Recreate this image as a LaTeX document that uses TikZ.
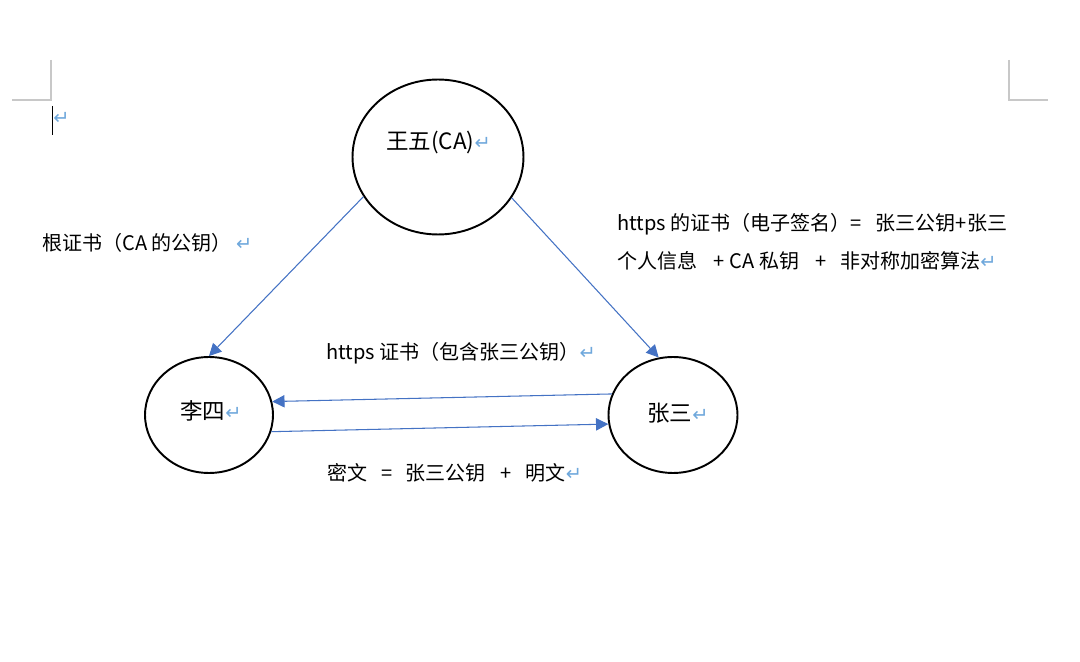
\documentclass[tikz,border=0pt]{standalone}
\usepackage{fontspec}
\setmainfont{Noto Sans CJK SC}
\newfontfamily\symf{DejaVu Sans}
\usetikzlibrary{arrows.meta,shapes.geometric}
\definecolor{arrblue}{HTML}{4472C4}
\definecolor{retblue}{HTML}{6FA8DC}
\definecolor{markgray}{HTML}{C8C8C8}
\newcommand{\rmk}{{\color{retblue}\symf\fontsize{11pt}{11pt}\selectfont ↵}}
\newcommand{\gp}[1]{\hspace{#1\dimexpr0.02cm\relax}}
\tikzset{
  circnode/.style={ellipse, draw=black, line width=1.1pt, inner sep=0pt},
  conn/.style={draw=arrblue, line width=0.6pt, -{Triangle[length=7pt,width=7pt]}},
  lbl/.style={anchor=west, inner sep=0pt, font=\fontsize{11.4pt}{13pt}\selectfont},
  biglbl/.style={anchor=west, inner sep=0pt, font=\fontsize{12.8pt}{14pt}\selectfont},
  pagemark/.style={draw=markgray, line width=0.8pt}
}
\begin{document}
\begin{tikzpicture}[x=0.02cm,y=-0.02cm]
\useasboundingbox[fill=white] (0,0) rectangle (1080,662);
% page corner marks
\coordinate (tl1) at (51,60); \coordinate (tl2) at (51,100); \coordinate (tl3) at (12,100);
\coordinate (tr1) at (1009,60); \coordinate (tr2) at (1009,100); \coordinate (tr3) at (1048,100);
\draw[pagemark] (tl1) -- (tl2) -- (tl3);
\draw[pagemark] (tr1) -- (tr2) -- (tr3);
\coordinate (cur1) at (52.5,106); \coordinate (cur2) at (52.5,135);
\draw[black, line width=0.9pt] (cur1) -- (cur2);
\node[lbl] (m0) at (53,118) {\rmk};
% nodes
\node[circnode, minimum width=3.42cm, minimum height=3.1cm] (ww) at (438,157) {};
\node[biglbl] (wwt) at (386,143) {王五(CA)\rmk};
\node[circnode, minimum width=2.56cm, minimum height=2.32cm] (ls) at (209,415) {};
\node[biglbl] (lst) at (180,411) {李四\rmk};
\node[circnode, minimum width=2.58cm, minimum height=2.32cm] (zs) at (673,415) {};
\node[biglbl] (zst) at (647,413) {张三\rmk};
% connectors
\draw[conn] (ww.208) -- (ls.north);
\draw[conn] (ww.331) -- (zs.104);
\draw[conn] (zs.161) -- (ls.12);
\draw[conn] (ls.345) -- (zs.188);
% labels
\node[lbl] (l1) at (42,243) {根证书（CA 的公钥）\gp{4}\rmk};
\node[lbl] (l2) at (617,224) {https 的证书（电子签名）=\gp{14}张三公钥+张三};
\node[lbl] (l3) at (617,261) {个人信息\gp{16}+\gp{5}CA 私钥\gp{16}+\gp{14}非对称加密算法\rmk};
\node[lbl] (l4) at (326,353) {https 证书（包含张三公钥）\rmk};
\node[lbl] (l5) at (327,473) {密文\gp{14}=\gp{13}张三公钥\gp{15}+\gp{14}明文\rmk};
\end{tikzpicture}
\end{document}
